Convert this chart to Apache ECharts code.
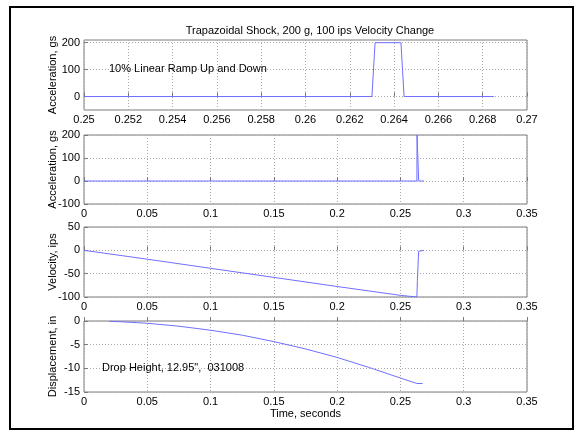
<!DOCTYPE html>
<html>
<head>
<meta charset="utf-8">
<script src="https://cdn.jsdelivr.net/npm/echarts@6/dist/echarts.min.js"></script>
<style>
  html, body { margin: 0; padding: 0; background: #fff; }
  #chart { width: 583px; height: 439px; }
</style>
</head>
<body>
<div id="chart"></div>
<script>
// pulse, zoomed view (time s, accel g)
var pulseTime = [0.25, 0.2630, 0.26314, 0.26431, 0.26445, 0.2685];
var pulseAccel = [0, 0, 200, 200, 0, 0];

// full record
var accelTime = [0, 0.2630, 0.26314, 0.26431, 0.26445, 0.2685];
var accelValues = [0, 0, 200, 200, 0, 0];

var velTime = [0, 0.05, 0.1, 0.15, 0.2, 0.25, 0.2630, 0.2634, 0.2644, 0.2646, 0.2685];
var velValues = [0, -19, -38.5, -58, -77.5, -96.5, -100, -65, -2, 0, 0];

var dispTime = [0.02, 0.03, 0.05, 0.075, 0.1, 0.125, 0.15, 0.175, 0.2, 0.225, 0.25, 0.263, 0.2675];
var dispValues = [-0.08, -0.17, -0.48, -1.1, -1.95, -3.0, -4.35, -5.9, -7.7, -9.8, -12.05, -13.2, -13.2];

var titleText = 'Trapazoidal Shock, 200 g, 100 ips Velocity Change';
var yNames = ['Acceleration, gs', 'Acceleration, gs', 'Velocity, ips', 'Displacement, in'];

var FONT = 'Liberation Sans, Arial, sans-serif';
var LINE = '#6f6fff';

function pairs(xs, ys) {
    return xs.map(function (x, i) { return [x, ys[i]]; });
}
function trim(v) {
    return String(+v.toFixed(4));
}

var tops = [40, 135, 227, 321];
var heights = [70, 69, 70, 71];

var grids = tops.map(function (t, i) {
    return {
        left: 84, width: 443, top: t, height: heights[i],
        show: true, borderColor: '#7a7a7a', borderWidth: 1, backgroundColor: '#fff'
    };
});

function xAxis(i, min, max, step, name) {
    return {
        type: 'value', gridIndex: i, min: min, max: max, interval: step,
        name: name || '', nameLocation: 'middle', nameGap: 16, nameMoveOverlap: false,
        nameTextStyle: { fontFamily: FONT, fontSize: 11, color: '#000' },
        axisLine: { show: false },
        axisTick: { show: true, inside: true, length: 4, lineStyle: { color: '#7a7a7a' } },
        axisLabel: { fontFamily: FONT, fontSize: 11, color: '#000', margin: 4, formatter: trim },
        splitLine: { show: true, lineStyle: { type: [1, 2], color: '#aaaaaa' } }
    };
}
function yAxis(i, min, max, step, custom) {
    var ax = {
        type: 'value', gridIndex: i, min: min, max: max, interval: step,
        name: yNames[i], nameLocation: 'middle', nameGap: 26, nameMoveOverlap: false,
        nameTextStyle: { fontFamily: FONT, fontSize: 11, color: '#000' },
        axisLine: { show: false },
        axisTick: { show: true, inside: true, length: 4, lineStyle: { color: '#7a7a7a' } },
        axisLabel: { fontFamily: FONT, fontSize: 11, color: '#000', margin: 4 },
        splitLine: { show: true, lineStyle: { type: [1, 2], color: '#aaaaaa' } }
    };
    if (custom) {
        ax.axisLabel.customValues = custom;
        ax.axisTick.customValues = custom;
    }
    return ax;
}

function line(i, data) {
    return {
        type: 'line', xAxisIndex: i, yAxisIndex: i, data: data,
        showSymbol: false, symbol: 'none', animation: false, clip: true,
        lineStyle: { color: LINE, width: 1 }
    };
}

var chart = echarts.init(document.getElementById('chart'));
chart.setOption({
    animation: false,
    backgroundColor: '#fff',
    title: {
        text: titleText, left: 305, top: 20, textAlign: 'center',
        textStyle: { fontFamily: FONT, fontSize: 11, fontWeight: 'normal', color: '#000' }
    },
    grid: grids,
    xAxis: [
        xAxis(0, 0.25, 0.27, 0.002),
        xAxis(1, 0, 0.35, 0.05),
        xAxis(2, 0, 0.35, 0.05),
        xAxis(3, 0, 0.35, 0.05, 'Time, seconds')
    ],
    yAxis: [
        yAxis(0, -50, 210, 50, [0, 100, 200]),
        yAxis(1, -100, 200, 100),
        yAxis(2, -100, 50, 50),
        yAxis(3, -15, 0, 5)
    ],
    series: [
        line(0, pairs(pulseTime, pulseAccel)),
        line(1, pairs(accelTime, accelValues)),
        line(2, pairs(velTime, velValues)),
        line(3, pairs(dispTime, dispValues))
    ],
    graphic: [
        {
            type: 'rect', silent: true, z: 100,
            shape: { x: 10, y: 7, width: 563, height: 422 },
            style: { fill: null, stroke: '#000', lineWidth: 2 }
        },
        {
            type: 'text', left: 109, top: 63, z: 100,
            style: { text: '10% Linear Ramp Up and Down', font: '11px ' + FONT, fill: '#000' }
        },
        {
            type: 'text', left: 102, top: 362, z: 100,
            style: { text: 'Drop Height, 12.95",  031008', font: '11px ' + FONT, fill: '#000' }
        }
    ]
});
</script>
</body>
</html>
